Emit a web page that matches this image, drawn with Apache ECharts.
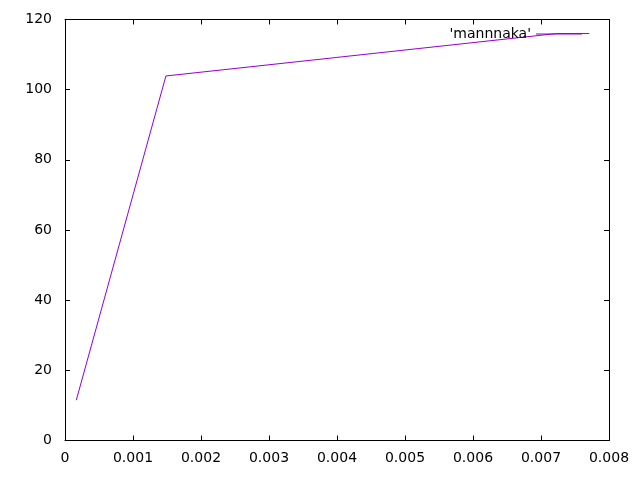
<!DOCTYPE html>
<html><head><meta charset="utf-8">
<script src="https://cdn.jsdelivr.net/npm/echarts@6/dist/echarts.min.js"></script>
<style>html,body{margin:0;padding:0;background:#fff}#c{width:640px;height:480px}</style>
</head><body><div id="c"></div>
<script>
const seriesName = "'mannnaka'";
const xValues = [0.000166, 0.001484, 0.00723, 0.00771];
const yValues = [11.5, 103.9, 116.0, 116.0];

const chart = echarts.init(document.getElementById('c'), null, {renderer: 'canvas'});
const font = 'DejaVu Sans, sans-serif';
const lineStyle = {color: '#000', width: 1};
const tick = {show: true, inside: true, length: 5, lineStyle: {color: '#000', width: 1}};
const xFmt = v => v === 0 ? '0' : v.toFixed(3);
chart.setOption({
  animation: false,
  backgroundColor: '#fff',
  grid: {left: 65, right: 31, top: 19.5, bottom: 39.5, containLabel: false},
  legend: {
    right: 58, top: 27, padding: 0, align: 'right', itemWidth: 46, itemHeight: 1, itemGap: 0,
    icon: 'path://M0,0H46V1H0Z',
    textStyle: {fontFamily: font, fontSize: 14, color: '#000'},
    data: [seriesName]
  },
  xAxis: [
    {type: 'value', min: 0, max: 0.008, interval: 0.001, position: 'bottom',
     axisLine: {show: true, onZero: false, lineStyle}, axisTick: tick, splitLine: {show: false},
     axisLabel: {color: '#000', fontFamily: font, fontSize: 14, margin: 11, formatter: xFmt}},
    {type: 'value', min: 0, max: 0.008, interval: 0.001, position: 'top',
     axisLine: {show: true, onZero: false, lineStyle}, axisTick: tick, splitLine: {show: false},
     axisLabel: {show: false}}
  ],
  yAxis: [
    {type: 'value', min: 0, max: 120, interval: 20, position: 'left',
     axisLine: {show: true, onZero: false, lineStyle}, axisTick: tick, splitLine: {show: false},
     axisLabel: {color: '#000', fontFamily: font, fontSize: 14, margin: 13}},
    {type: 'value', min: 0, max: 120, interval: 20, position: 'right',
     axisLine: {show: true, onZero: false, lineStyle}, axisTick: tick, splitLine: {show: false},
     axisLabel: {show: false}}
  ],
  series: [{
    name: seriesName, type: 'line', symbol: 'none', showSymbol: false,
    xAxisIndex: 0, yAxisIndex: 0,
    lineStyle: {color: '#9400d3', width: 1}, itemStyle: {color: '#9400d3'},
    data: xValues.map((x, i) => [x, yValues[i]])
  }]
});
</script></body></html>
